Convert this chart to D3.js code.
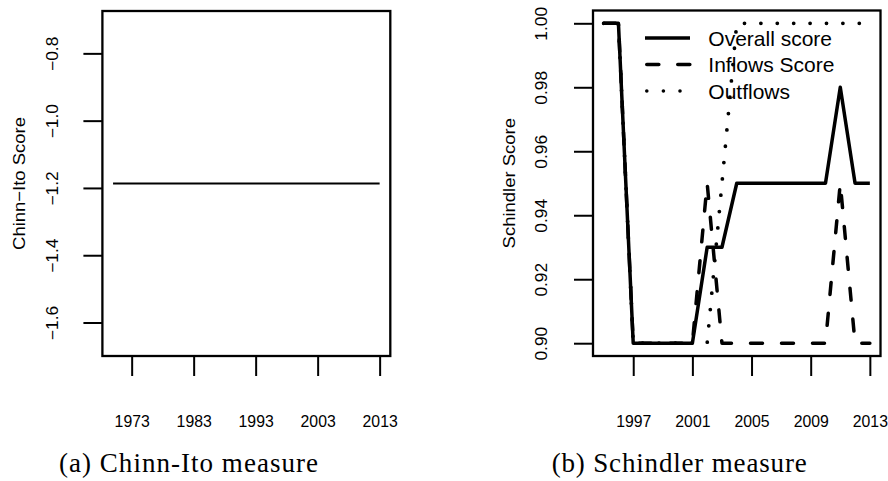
<!DOCTYPE html>
<html>
<head>
<meta charset="utf-8">
<script src="https://cdn.jsdelivr.net/npm/d3@7"></script>
<style>
  html, body { margin: 0; padding: 0; background: #fff; }
  svg { display: block; }
  text { font-family: "Liberation Sans", Arial, Helvetica, sans-serif; fill: #000; }
  .caption { font-family: "Liberation Serif", "Times New Roman", serif; }
</style>
</head>
<body>
<svg id="chart" width="888" height="481"></svg>
<script>
// ---- Panel (a): Chinn-Ito capital account openness index ----
const chinnYears = [1970, 1971, 1972, 1973, 1974, 1975, 1976, 1977, 1978, 1979,
                    1980, 1981, 1982, 1983, 1984, 1985, 1986, 1987, 1988, 1989,
                    1990, 1991, 1992, 1993, 1994, 1995, 1996, 1997, 1998, 1999,
                    2000, 2001, 2002, 2003, 2004, 2005, 2006, 2007, 2008, 2009,
                    2010, 2011, 2012, 2013];
const chinnScore = [-1.1868, -1.1868, -1.1868, -1.1868, -1.1868, -1.1868, -1.1868, -1.1868, -1.1868, -1.1868,
                    -1.1868, -1.1868, -1.1868, -1.1868, -1.1868, -1.1868, -1.1868, -1.1868, -1.1868, -1.1868,
                    -1.1868, -1.1868, -1.1868, -1.1868, -1.1868, -1.1868, -1.1868, -1.1868, -1.1868, -1.1868,
                    -1.1868, -1.1868, -1.1868, -1.1868, -1.1868, -1.1868, -1.1868, -1.1868, -1.1868, -1.1868,
                    -1.1868, -1.1868, -1.1868, -1.1868];
const chinnXTicks = [1973, 1983, 1993, 2003, 2013];
const chinnYTicks = [-1.6, -1.4, -1.2, -1.0, -0.8];

// ---- Panel (b): Schindler restriction measures ----
const schYears    = [1995, 1996, 1997, 1998, 1999, 2000, 2001, 2002, 2003, 2004,
                     2005, 2006, 2007, 2008, 2009, 2010, 2011, 2012, 2013];
const overallScore = [1.00, 1.00, 0.90, 0.90, 0.90, 0.90, 0.90, 0.93, 0.93, 0.95,
                      0.95, 0.95, 0.95, 0.95, 0.95, 0.95, 0.98, 0.95, 0.95];
const inflowsScore = [1.00, 1.00, 0.90, 0.90, 0.90, 0.90, 0.90, 0.95, 0.90, 0.90,
                      0.90, 0.90, 0.90, 0.90, 0.90, 0.90, 0.95, 0.90, 0.90];
const outflowsScore = [1.00, 1.00, 0.90, 0.90, 0.90, 0.90, 0.90, 0.90, 0.95, 1.00,
                       1.00, 1.00, 1.00, 1.00, 1.00, 1.00, 1.00, 1.00, 1.00];
const schXTicks = [1997, 2001, 2005, 2009, 2013];
const schYTicks = [0.90, 0.92, 0.94, 0.96, 0.98, 1.00];
const legendLabels = ["Overall score", "Inflows Score", "Outflows"];

const svg = d3.select("#chart");
svg.append("rect").attr("width", 888).attr("height", 481).attr("fill", "#fff");

const TICK_FONT = 15.8;
const STRETCH = 1.1;   // glyphs are drawn slightly taller than wide

// R-style 4% padding around the data range
function padded(lo, hi) {
  const d = (hi - lo) * 0.04;
  return [lo - d, hi + d];
}

function drawPanel(opt) {
  const g = svg.append("g");
  const x = d3.scaleLinear().domain(opt.xDomain).range([opt.left, opt.right]);
  const y = d3.scaleLinear().domain(opt.yDomain).range([opt.bottom, opt.top]);

  // bottom axis: long ticks, labels well below
  const xa = g.append("g")
    .attr("transform", `translate(0,${opt.bottom})`)
    .call(d3.axisBottom(x).tickValues(opt.xTicks).tickSize(20).tickSizeOuter(0)
      .tickFormat(d3.format("d")));
  xa.select(".domain").remove();
  xa.selectAll(".tick line").attr("stroke", "#000").attr("stroke-width", 2);
  xa.selectAll(".tick text")
    .attr("y", 0).attr("dy", null)
    .attr("transform", `translate(0,71) scale(1,${STRETCH})`)
    .attr("font-size", TICK_FONT)
    .style("font-family", "'Liberation Sans', Arial, sans-serif");

  // left axis: rotated labels
  const ya = g.append("g")
    .attr("transform", `translate(${opt.left},0)`)
    .call(d3.axisLeft(y).tickValues(opt.yTicks).tickSize(19).tickSizeOuter(0)
      .tickFormat(opt.yFormat));
  ya.select(".domain").remove();
  ya.selectAll(".tick line").attr("stroke", "#000").attr("stroke-width", 2);
  ya.selectAll(".tick text")
    .attr("x", 0).attr("y", 0).attr("dy", null)
    .attr("text-anchor", "middle")
    .attr("transform", `translate(${-opt.yLabelOffset},0) scale(1,${STRETCH}) rotate(-90)`)
    .attr("font-size", TICK_FONT)
    .style("font-family", "'Liberation Sans', Arial, sans-serif");

  // y axis title
  g.append("text")
    .attr("transform", `translate(${opt.titleX},${(opt.top + opt.bottom) / 2}) scale(1,${STRETCH}) rotate(-90)`)
    .attr("text-anchor", "middle")
    .attr("font-size", 16.8)
    .text(opt.yTitle);

  // data lines
  opt.series.forEach(s => {
    const line = d3.line().x((d, i) => x(s.xs[i])).y(d => y(d));
    g.append("path")
      .datum(s.values)
      .attr("d", line)
      .attr("fill", "none")
      .attr("stroke", "#000")
      .attr("stroke-width", s.width)
      .attr("stroke-linecap", s.cap || "butt")
      .attr("stroke-linejoin", "round")
      .attr("stroke-dasharray", s.dash || null);
  });

  // plot box
  g.append("rect")
    .attr("x", opt.left).attr("y", opt.top)
    .attr("width", opt.right - opt.left).attr("height", opt.bottom - opt.top)
    .attr("fill", "none").attr("stroke", "#000").attr("stroke-width", 2.3);

  // sub-caption
  svg.append("text")
    .attr("class", "caption")
    .attr("x", opt.captionX).attr("y", 471.5)
    .attr("font-size", 27)
    .attr("textLength", opt.captionWidth)
    .attr("lengthAdjust", "spacing")
    .text(opt.caption);

  return { g, x, y };
}

// centre the constant series the way R expands a zero-width range
const cMin = d3.min(chinnScore), cMax = d3.max(chinnScore);
const cLo = cMin - 0.4 * Math.abs(cMin), cHi = cMax + 0.4 * Math.abs(cMax);

drawPanel({
  left: 102.4, right: 390.3, top: 11, bottom: 356,
  xDomain: padded(d3.min(chinnYears), d3.max(chinnYears)),
  yDomain: padded(cLo, cHi),
  xTicks: chinnXTicks, yTicks: chinnYTicks,
  yFormat: d3.format(".1f"),
  yLabelOffset: 44, titleX: 25,
  yTitle: "Chinn\u2212Ito Score",
  series: [{ xs: chinnYears, values: chinnScore, width: 2 }],
  caption: "(a) Chinn-Ito measure", captionX: 59, captionWidth: 259
});

drawPanel({
  left: 593, right: 880.5, top: 10.5, bottom: 356,
  xDomain: padded(d3.min(schYears), d3.max(schYears)),
  yDomain: padded(0.90, 1.00),
  xTicks: schXTicks, yTicks: schYTicks,
  yFormat: d3.format(".2f"),
  yLabelOffset: 46.5, titleX: 515,
  yTitle: "Schindler Score",
  series: [
    { xs: schYears, values: overallScore, width: 3.5, cap: "butt" },
    { xs: schYears, values: inflowsScore, width: 3.5, cap: "round", dash: "12,19" },
    { xs: schYears, values: outflowsScore, width: 3.8, cap: "round", dash: "0,16.4" }
  ],
  caption: "(b) Schindler measure", captionX: 551.7, captionWidth: 255
});

// legend (no frame)
const legendStyles = [
  { dash: null, cap: "butt" },
  { dash: "12,19", cap: "round" },
  { dash: "0,16.6", cap: "round" }
];
const legY = [38, 64.5, 91];
const leg = svg.append("g");
legendLabels.forEach((lab, i) => {
  const st = legendStyles[i];
  leg.append("line")
    .attr("x1", st.cap === "round" ? 646.8 : 645).attr("x2", 690)
    .attr("y1", legY[i]).attr("y2", legY[i])
    .attr("stroke", "#000").attr("stroke-width", 3.6)
    .attr("stroke-linecap", st.cap)
    .attr("stroke-dasharray", st.dash);
  leg.append("text")
    .attr("x", 708.3).attr("y", legY[i]).attr("dy", "0.36em")
    .attr("font-size", 21)
    .text(lab);
});
</script>
</body>
</html>
